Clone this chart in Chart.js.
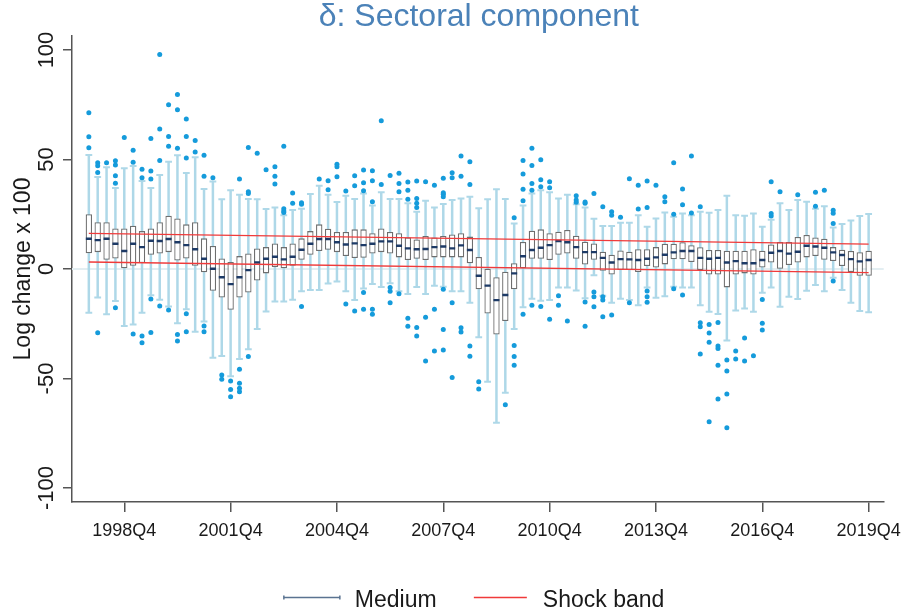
<!DOCTYPE html>
<html>
<head>
<meta charset="utf-8">
<title>Sectoral component</title>
<script src="https://cdn.jsdelivr.net/npm/chart.js@4.4.1/dist/chart.umd.min.js"></script>
<style>
  html, body { margin: 0; padding: 0; background: #fff; }
</style>
</head>
<body>
<canvas id="chart" width="909" height="615"></canvas>
<script>
// Quarters are indexed from 1997Q4 (0) to 2019Q4 (88)
var tickPos = [4, 16, 28, 40, 52, 64, 76, 88];
var tickLabels = ['1998Q4', '2001Q4', '2004Q4', '2007Q4', '2010Q4', '2013Q4', '2016Q4', '2019Q4'];
var yTicks = [-100, -50, 0, 50, 100];

// Box plot summaries per quarter (log change x 100)
var whiskerLow = [
    -20, -13, -20.7, -14.6, -26, -25.3, -20, -12, -14, -17.1,
    -24.8, -18.4, -28.6, -24, -40.5, -39.7, -49, -41.1, -36.6, -27.4,
    -19.4, -14.8, -14.8, -14, -10.2, -9.6, -9.6, -6.6, -5.7, -10.2,
    -14.2, -8.9, -6.9, -8.2, -6.5, -10.2, -11.4, -8.2, -11.4, -7.6,
    -8.1, -10.2, -10.2, -15.4, -31.2, -51.5, -70.2, -56.5, -27.4, -17.5,
    -13.6, -14.5, -14.2, -8.5, -8.5, -9.8, -13.4, -2.8, -12.2, -15.4,
    -13.6, -14.2, -16.6, -8.5, -13.1, -12.5, -8.1, -8.5, -8.5, -16.6,
    -19.5, -20.6, -32.7, -19, -18, -19.5, -10.8, -8.5, -17.2, -12.7,
    -13.7, -9.9, -7.3, -10.2, -4, -9.6, -15.4, -19.2, -19.8
];
var boxLow = [
    7.2, 7.7, 4.2, 4.8, 0.3, 1.5, 2.7, 6.5, 7.1, 7.7,
    3.9, 4.8, 1.5, -1.5, -9.9, -13, -18.6, -13, -10.7, -5.3,
    -2, 0.9, 0.3, 1.5, 4.2, 6.5, 8.2, 8.8, 7.7, 5.9,
    5, 5.1, 7.1, 7.7, 7.1, 5.3, 4.1, 4.7, 4.1, 5.3,
    5.3, 5.3, 5.3, 2.6, -9.3, -20.3, -29.9, -23.8, -9.3, 0.3,
    4.7, 4.7, 4.1, 6.5, 7.1, 4.7, 2, 4.2, -0.8, -2.5,
    -0.5, -0.5, -1.4, 1.4, 0.7, 2.1, 4.4, 4.4, 3.2, -0.5,
    -2.5, -2.5, -8.4, -2.5, -2, -2.5, 0.7, 3, 0.1, 1.8,
    3, 5.3, 5.9, 4.2, 3.6, 1.4, -1.4, -3.1, -3.1
];
var median = [
    13.8, 13.2, 13.8, 11.5, 8.2, 11.5, 10, 12.9, 12.8, 13.7,
    12.2, 10.9, 9, 4.7, 0.1, -3.8, -6.9, -3.8, -0.5, 3,
    4.7, 5.6, 4.4, 5.6, 8.8, 11.5, 13.7, 13.7, 12.2, 11.2,
    11.7, 10.9, 11.5, 12.6, 12.6, 10.6, 9.4, 9, 9.1, 10,
    10.3, 9.4, 10.8, 8.7, -3.1, -7.6, -14.2, -11.9, -2, 5.8,
    8.7, 9.7, 10.9, 12.8, 12.2, 10, 7.7, 7.7, 5.1, 3,
    4.5, 4.4, 4.1, 4.7, 5.3, 6.5, 7.6, 8.2, 8.2, 5.1,
    4.7, 5.1, 3, 3.6, 2.6, 2.6, 4.1, 7.4, 8.2, 7,
    7.9, 10.6, 10.3, 9.7, 7.6, 6.4, 4.5, 3.5, 4.1
];
var boxHigh = [
    25, 21.4, 21.4, 18.5, 18.5, 19.8, 17.3, 18.5, 21.4, 24.3,
    23.1, 20.4, 21.4, 14, 10.5, 4.8, 3.2, 5.9, 7.1, 9.4,
    10, 11.7, 10, 11.7, 14, 17.3, 20.4, 18.4, 16.9, 16.9,
    18.1, 18.1, 16.3, 18.5, 16.9, 16.3, 14.4, 13.5, 15.1, 14.4,
    15.1, 15.8, 16.3, 14.8, 5.5, 0.1, -3.8, -1.2, 2.6, 12.3,
    17.5, 18.1, 16.3, 17, 17.8, 15.2, 12.5, 11.7, 7.9, 6.5,
    8.5, 7.9, 9, 9, 10, 11.5, 11.5, 12.2, 10.9, 9.9,
    8.7, 8.7, 8.3, 8.3, 8.3, 9, 8.3, 11.2, 12.3, 12.3,
    14.6, 15.5, 14.4, 13.8, 10, 8.8, 8.2, 7.7, 8.3
];
var whiskerHigh = [
    52.1, 42, 46.5, 37, 46, 47, 40.2, 37, 42.9, 49,
    52, 43.8, 51, 36.5, 40, 31.8, 36, 33.9, 32, 31.8,
    27.4, 28.1, 24.5, 26.9, 27.5, 34.2, 38, 33.9, 30.6, 33.5,
    32, 34.5, 29, 35, 32, 32, 30, 26.1, 31.2, 28.1,
    29.7, 31.5, 32.2, 33, 27.7, 31.8, 36.4, 32, 20.8, 29,
    34.5, 36, 35, 32.2, 33.9, 29.6, 28.1, 23, 19.6, 19.6,
    21.1, 21.1, 24.6, 19.3, 23.1, 25.8, 23.9, 25.4, 24.6, 26.1,
    25.7, 26.9, 33.5, 24.6, 24.3, 25.4, 19.3, 22.5, 30, 26.9,
    31.5, 30.7, 27.5, 28.7, 19, 20.5, 22.2, 24.2, 25.1
];
var outliers = [
    [71.4, 60.4, 55.4], [48.5, 47.2, 44.1, -29.1], [48.5], [49.4, 47.5, 42.6, 39.2, -17.7],
    [60.1], [54.2, 48.7, -29.7], [45.5, 41.7, -30.6, -33.7], [59.6, 44.7, 41.1, -13.7, -29],
    [98, 63.9, 49.6, -16.9], [75, 60.5, 56, -18.7], [79.7, 72.7, 55.1, -29.9, -32.9],
    [68.5, 60.5, 50.7, -20.4, -28.6], [58.7, 53.4], [51.9, 42.3, -26, -28.6], [41.7],
    [-48.4, -50.4], [-51.2, -55, -58.3], [41.1, -45.8, -52.2, -54.5, -56], [55.5, 35.3, 34.5, -40],
    [52.9], [45.3], [46.7, 42.3, 38.8], [56, 27.5, 26.5, 25.8], [34.7, 30], [30.3, 29.6, -17.1],
    [], [41.1], [40.3, 36.2], [47.8, 46.7, 42.1], [35.6, -16],
    [42.6, 38, -19.2], [45.2, 39.4, 35.7, -10.7, -18.4], [44.9, 40.3, 30.7, -18.4, -20.7],
    [67.7, 38.6], [42.7, -8.4, -10.2, -15.4], [43.7, 39.1, 35.3, -11.3],
    [39.7, 36, 31.9, -22.5, -26.2], [40.2, 32.2, 30, 28.1, -26.7, -30.6], [39.9, -22, -42],
    [38.2, -18.4, -37.5], [41.4, 34.8, 34.1, 33, -9.3, -27.6, -37], [44, 41.7, -15.4, -49.6],
    [51.6, 42.4, -26.8, -28.8], [49, 38.6, -35.2, -39.8], [-51.5, -54.8], [], [], [-62],
    [23.4, -34.9, -40, -43.9], [49.6, 43.4, 36.4, 31.2, -20.7],
    [55.1, 47.3, 39.1, 36, -16.5], [49.9, 40.8, 37.6, -17.1], [39.9, 37.1, -23],
    [-12.2, -16.6], [-23.8], [33.5, 31.5, 30.5], [30.6, 30, -15.1, -26.2],
    [34.5, -10.5, -12.7, -17.2], [28.4, -12.7, -14.2, -21.8], [26.2, 24.5, -21],
    [23.6], [41.2, -15.4], [38.2, 27.4], [40.2, 28.1, -10, -12.7, -15.2], [38.2],
    [33, 30.7], [48.5, 25, -9], [36.5, 29.3, -11.9], [51.6, 25.6], [28.4, -24.5, -26.4, -38.8],
    [-25.3, -29.2, -33.5, -69.7], [-24.4, -35.2, -36.3, -43.9, -59.4], [-41.6, -46.6, -57.1, -72.5],
    [-37.5, -41.1], [-31.5, -42], [-39.6], [-13.9, -24.8, -27.9], [39.9, 25.4, 24.2],
    [35.3], [], [33.9], [], [35, 28.7], [36], [26.8, 25.5, 20.8, -5.5], [], [], [], []
];

// Shock band end points
var bandQuarter = [0, 88];
var bandUpper = [16.3, 11.4];
var bandLower = [3.2, -1.7];

var FONT = "'Liberation Sans', Arial, sans-serif";
var WHISKER = '#aed8e8';

var whiskerData = [], capData = [], boxData = [], medianData = [], outlierData = [];
median.forEach(function (m, i) {
    whiskerData.push({ x: i, y: [whiskerLow[i], whiskerHigh[i]] });
    capData.push({ x: i, y: whiskerLow[i] }, { x: i, y: whiskerHigh[i] });
    boxData.push({ x: i, y: [boxLow[i], boxHigh[i]] });
    medianData.push({ x: i, y: m });
    outliers[i].forEach(function (v) {
        outlierData.push({ x: i, y: v });
    });
});

function bandLine(vals) {
    return bandQuarter.map(function (q, k) { return { x: q, y: vals[k] }; });
}

var decor = {
    id: 'decor',
    beforeDatasetsDraw: function (chart) {
        var ctx = chart.ctx, a = chart.chartArea;
        var y0 = chart.scales.y.getPixelForValue(0);
        ctx.save();
        ctx.strokeStyle = '#e3eef2';
        ctx.lineWidth = 2;
        ctx.beginPath();
        ctx.moveTo(a.left, y0);
        ctx.lineTo(a.right, y0);
        ctx.stroke();
        ctx.restore();
    },
    afterDraw: function (chart) {
        var ctx = chart.ctx, a = chart.chartArea, ys = chart.scales.y;
        var cx = (a.left + a.right) / 2;
        ctx.save();

        // title
        ctx.fillStyle = '#4b82b8';
        ctx.font = '32px ' + FONT;
        ctx.textAlign = 'center';
        ctx.textBaseline = 'alphabetic';
        ctx.fillText('\u03b4: Sectoral component', cx + 1, 26);

        // y tick labels, written sideways
        ctx.fillStyle = '#1a1a1a';
        ctx.font = '22px ' + FONT;
        yTicks.forEach(function (v) {
            ctx.save();
            ctx.translate(53, ys.getPixelForValue(v));
            ctx.rotate(-Math.PI / 2);
            ctx.fillText(String(v), 0, 0);
            ctx.restore();
        });

        // y axis title
        ctx.save();
        ctx.translate(30, ys.getPixelForValue(0));
        ctx.rotate(-Math.PI / 2);
        ctx.font = '23px ' + FONT;
        ctx.fillText('Log change x 100', 0, 0);
        ctx.restore();

        // legend
        var ly = 597.5, lx = cx - 194;
        ctx.lineWidth = 1.5;
        ctx.strokeStyle = '#5a7391';
        ctx.beginPath();
        ctx.moveTo(lx, ly); ctx.lineTo(lx + 56, ly);
        ctx.moveTo(lx, ly - 2); ctx.lineTo(lx, ly + 2);
        ctx.moveTo(lx + 56, ly - 2); ctx.lineTo(lx + 56, ly + 2);
        ctx.stroke();
        ctx.strokeStyle = '#f03a3a';
        ctx.beginPath();
        ctx.moveTo(lx + 190, ly); ctx.lineTo(lx + 243, ly);
        ctx.stroke();
        ctx.font = '23px ' + FONT;
        ctx.textAlign = 'left';
        ctx.fillStyle = '#1a1a1a';
        ctx.fillText('Medium', lx + 71, 606.5);
        ctx.fillText('Shock band', lx + 259, 606.5);
        ctx.restore();
    }
};

var ctx = document.getElementById('chart').getContext('2d');
new Chart(ctx, {
    type: 'bar',
    data: {
        datasets: [{
            type: 'scatter',
            data: outlierData,
            backgroundColor: '#159bdb',
            borderWidth: 0,
            pointRadius: 2.5,
            order: 0
        }, {
            type: 'line',
            data: bandLine(bandUpper),
            borderColor: '#f03a3a',
            borderWidth: 1.3,
            pointRadius: 0,
            order: 1
        }, {
            type: 'line',
            data: bandLine(bandLower),
            borderColor: '#f03a3a',
            borderWidth: 1.3,
            pointRadius: 0,
            order: 1
        }, {
            type: 'scatter',
            data: medianData,
            pointStyle: 'line',
            pointRadius: 3,
            borderColor: '#1d3a66',
            borderWidth: 2.4,
            order: 2
        }, {
            type: 'bar',
            data: boxData,
            backgroundColor: '#ffffff',
            borderColor: '#6e6e6e',
            borderWidth: 1.3,
            borderSkipped: false,
            grouped: false,
            maxBarThickness: 6.4,
            order: 3
        }, {
            type: 'scatter',
            data: capData,
            pointStyle: 'line',
            pointRadius: 3.4,
            borderColor: WHISKER,
            borderWidth: 2,
            order: 4
        }, {
            type: 'bar',
            data: whiskerData,
            backgroundColor: WHISKER,
            borderWidth: 0,
            grouped: false,
            maxBarThickness: 2.5,
            order: 5
        }]
    },
    options: {
        responsive: false,
        animation: false,
        devicePixelRatio: 1,
        events: [],
        layout: { padding: { left: 0, right: 18, top: 36, bottom: 63 } },
        plugins: {
            legend: { display: false },
            title: { display: false },
            tooltip: { enabled: false }
        },
        scales: {
            x: {
                type: 'linear',
                min: -1.9,
                max: 89.7,
                offset: false,
                grid: { offset: false, drawOnChartArea: false, drawTicks: true, tickLength: 10, color: '#555', lineWidth: 1.5 },
                border: { display: true, color: '#555', width: 1.5 },
                ticks: {
                    autoSkip: false,
                    maxRotation: 0,
                    padding: 8,
                    color: '#1a1a1a',
                    font: { family: FONT, size: 18 },
                    callback: function (v) { return tickLabels[tickPos.indexOf(v)]; }
                },
                afterBuildTicks: function (s) {
                    s.ticks = tickPos.map(function (v) { return { value: v }; });
                },
                afterFit: function (s) { s.height = 50; }
            },
            y: {
                min: -106.4,
                max: 106.4,
                grid: { drawOnChartArea: false, drawTicks: true, tickLength: 9, color: '#555', lineWidth: 1.5 },
                border: { display: true, color: '#555', width: 1.5 },
                ticks: { display: false },
                afterBuildTicks: function (s) {
                    s.ticks = yTicks.map(function (v) { return { value: v }; });
                },
                afterFit: function (s) { s.width = 72; }
            }
        }
    },
    plugins: [decor]
});
</script>
</body>
</html>
